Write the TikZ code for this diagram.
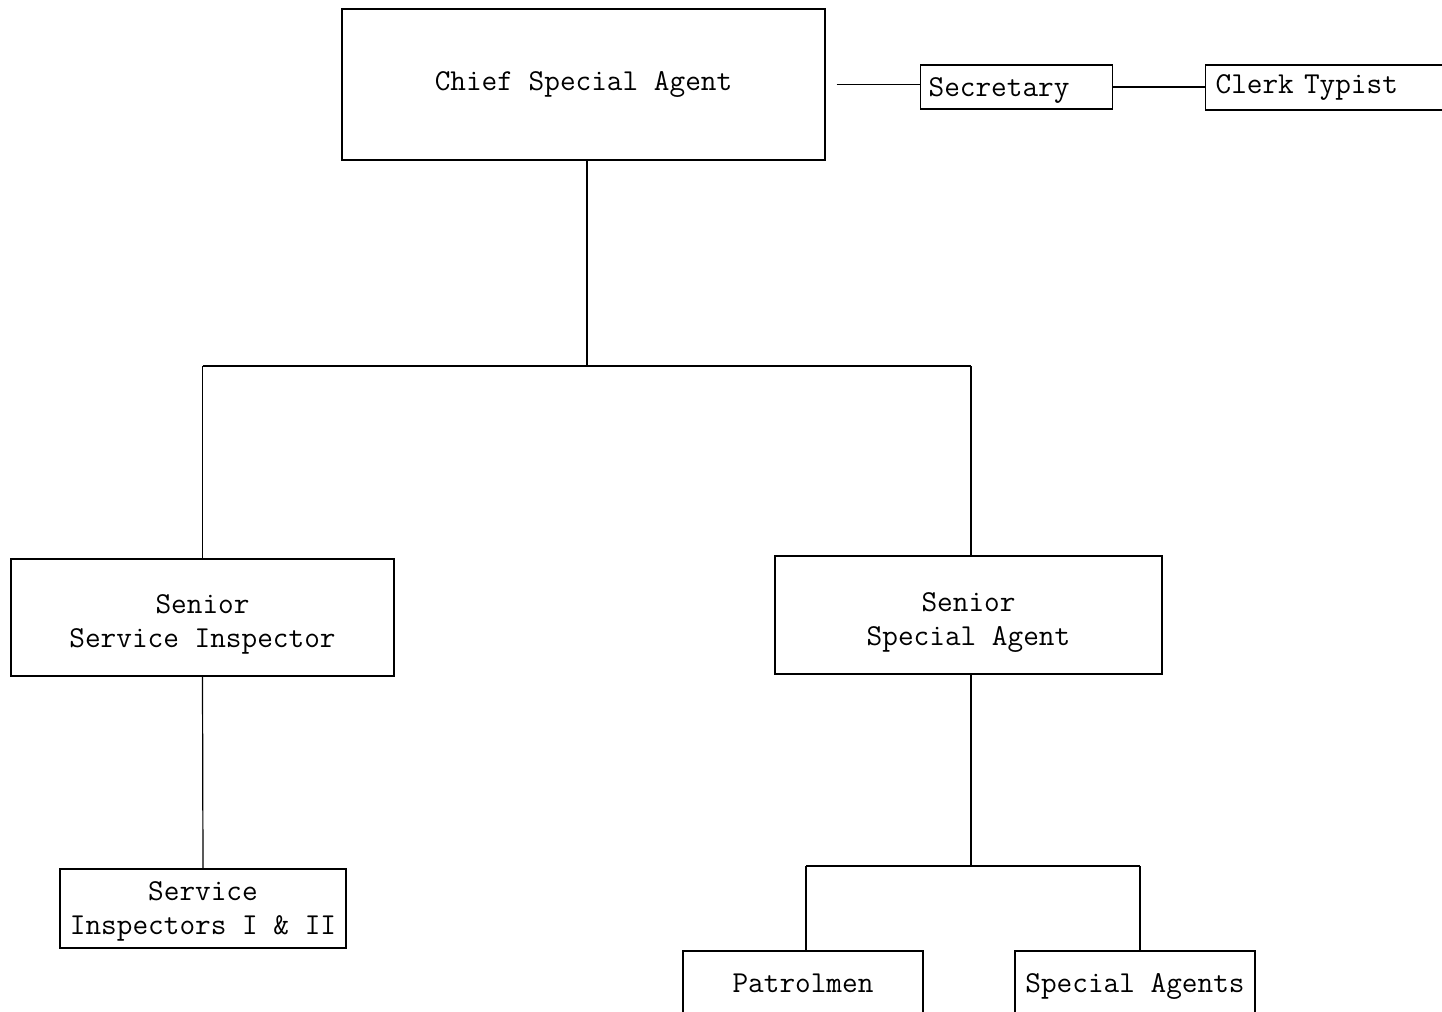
\documentclass[tikz,border=0pt]{standalone}
\begin{document}
\begin{tikzpicture}[x=0.5pt,y=-0.5pt,
  box/.style={draw, line width=0.6pt, inner sep=0pt, align=center,
    font=\ttfamily\fontsize{15.2}{17}\selectfont},
  leftbox/.style={box, anchor=west, align=left},
  link/.style={line width=0.6pt}]
\useasboundingbox (0,0) rectangle (1442,1012);
\fill[white] (0,0) rectangle (1442,1012);

% top level and office staff
\node[box, minimum width=241.5pt, minimum height=75.5pt] (chief) at (583.5,84.5) {Chief Special Agent};
\node[leftbox, inner xsep=4pt, text width=88pt, minimum height=22pt, text height=13pt] (sec) at (920,87) {Secretary};
\node[leftbox, inner xsep=5pt, text width=125pt, minimum height=22.5pt] (clerk) at (1205,87.5) {Clerk Typist};

% second level
\node[box, minimum width=191.5pt, minimum height=58.5pt, text height=33pt] (ssi) at (202.5,617.5) {Senior\\Service Inspector};
\node[box, minimum width=193.5pt, minimum height=59pt, text height=34pt] (ssa) at (968.5,615) {Senior\\Special Agent};

% third level
\node[box, minimum width=143pt, minimum height=39.5pt, text height=29pt] (si) at (203,908.5) {Service\\Inspectors I \& II};
\node[box, minimum width=120pt, minimum height=32pt] (pat) at (803,983) {Patrolmen};
\node[box, minimum width=120pt, minimum height=32pt, text height=13pt] (sag) at (1135,983) {Special Agents};

% junction points
\coordinate (j1) at (587,366);
\coordinate (j2) at (971,866);
\coordinate (j3) at (1140,866);
\coordinate (j4) at (806,866);

% connectors
\draw[link] ([xshift=5.5pt]chief.east) -- (chief.east -| sec.west);
\draw[link] (sec.east) -- (sec.east -| clerk.west);
\draw[link] (chief.south -| j1) -- (j1);
\draw[link] (ssi.north |- j1) -- (j2 |- j1);
\draw[link] (ssi.north |- j1) -- (ssi.north);
\draw[link] (j2 |- j1) -- (j2 |- ssa.north);
\draw[link] (ssi.south) -- (si.north);
\draw[link] (j2 |- ssa.south) -- (j2);
\draw[link] (j4) -- (j3);
\draw[link] (j4) -- (j4 |- pat.north);
\draw[link] (j3) -- (j3 |- sag.north);
\end{tikzpicture}
\end{document}
